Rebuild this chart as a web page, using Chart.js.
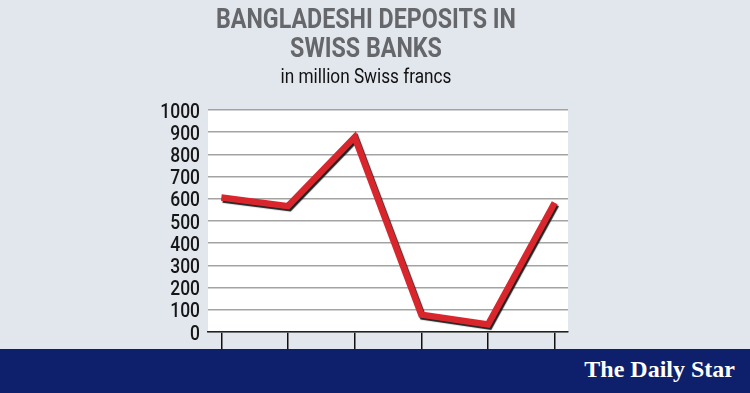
<!DOCTYPE html>
<html>
<head>
<meta charset="utf-8">
<script src="https://cdn.jsdelivr.net/npm/chart.js@4"></script>
<style>
  html, body { margin: 0; padding: 0; }
  body { width: 750px; height: 393px; background: #e2e6ed; position: relative; overflow: hidden; }
  #wrap { position: absolute; left: 0; top: 0; width: 750px; height: 393px; }
  #band { position: absolute; left: 0; top: 349px; width: 750px; height: 44px; background: #0e206b; }
  #logo { position: absolute; right: 15px; top: 7px; color: #fff; font: bold 24px 'Liberation Serif', serif; }
</style>
</head>
<body>
<div id="wrap"><canvas id="myChart" width="750" height="393"></canvas></div>
<div id="band"><div id="logo">The Daily Star</div></div>
<script>

// years are not printed on the graphic, kept only to name the points
const years = ['2019', '2020', '2021', '2022', '2023', '2024'];
const deposits = [606, 567, 878, 78, 34, 582];
const yTicks = [0, 100, 200, 300, 400, 500, 600, 700, 800, 900, 1000];

const titleLines = ['BANGLADESHI DEPOSITS IN', 'SWISS BANKS'];
const subtitleText = 'in million Swiss francs';

// the graphic uses a narrow font; squeeze Roboto sideways to get close
function squeezedText(ctx, text, x, y, font, color, sx, align) {
    ctx.save();
    ctx.font = font;
    ctx.fillStyle = color;
    ctx.textBaseline = 'alphabetic';
    ctx.textAlign = align;
    ctx.translate(x, y);
    ctx.scale(sx, 1);
    ctx.fillText(text, 0, 0);
    ctx.restore();
}

const drawExtras = {
    id: 'drawExtras',
    beforeDraw(chart) {
        const a = chart.chartArea;
        const ctx = chart.ctx;
        ctx.save();
        ctx.fillStyle = '#ffffff';
        ctx.fillRect(a.left, a.top, a.right - a.left, a.bottom - a.top);
        ctx.restore();
    },
    beforeDatasetDraw(chart) {
        const ctx = chart.ctx;
        ctx.save();
        ctx.shadowColor = 'rgba(20,20,20,0.95)';
        ctx.shadowOffsetX = 1.5;
        ctx.shadowOffsetY = 2;
        ctx.shadowBlur = 1;
    },
    afterDatasetDraw(chart) {
        chart.ctx.restore();
    },
    afterDraw(chart) {
        const ctx = chart.ctx;
        const cx = 366;
        squeezedText(ctx, titleLines[0], cx, 28, "bold 28px Roboto", '#66676a', 0.83, 'center');
        squeezedText(ctx, titleLines[1], cx, 57, "bold 28px Roboto", '#66676a', 0.83, 'center');
        squeezedText(ctx, subtitleText, cx, 83, "20px Roboto", '#111111', 0.86, 'center');

        // y tick labels, placed through the y scale
        const y = chart.scales.y;
        yTicks.forEach(v => {
            squeezedText(ctx, String(v), y.right - 8, y.getPixelForValue(v) + 7.5,
                "500 21px Roboto", '#161616', 0.83, 'right');
        });
    }
};

const ctx = document.getElementById('myChart');

new Chart(ctx, {
    type: 'line',
    data: {
        datasets: [{
            label: 'Deposits',
            data: deposits.map((v, i) => ({ x: i, y: v })),
            borderColor: '#d8262c',
            borderWidth: 6.5,
            borderJoinStyle: 'miter',
            borderCapStyle: 'butt',
            pointRadius: 0,
            tension: 0,
            fill: false
        }]
    },
    options: {
        responsive: false,
        animation: false,
        devicePixelRatio: 1,
        layout: { padding: { left: 150, right: 182, top: 110, bottom: 41 } },
        plugins: {
            legend: { display: false },
            tooltip: { enabled: false },
            title: { display: false }
        },
        scales: {
            x: {
                type: 'linear',
                min: -0.2,
                max: 5.2,
                afterBuildTicks: (scale) => { scale.ticks = years.map((yr, i) => ({ value: i })); },
                ticks: { display: false },
                grid: {
                    drawOnChartArea: false,
                    drawTicks: true,
                    tickLength: 20,
                    color: '#111111',
                    lineWidth: 1.5
                },
                border: { display: true, color: '#222222', width: 1.5 }
            },
            y: {
                min: 0,
                max: 1000,
                afterBuildTicks: (scale) => { scale.ticks = yTicks.map(v => ({ value: v })); },
                afterFit: (scale) => { scale.width = 58; },
                ticks: { display: false },
                grid: {
                    drawTicks: false,
                    color: '#a3a3a3',
                    lineWidth: 1.5
                },
                border: { display: false }
            }
        }
    },
    plugins: [drawExtras]
});

</script>
</body>
</html>
